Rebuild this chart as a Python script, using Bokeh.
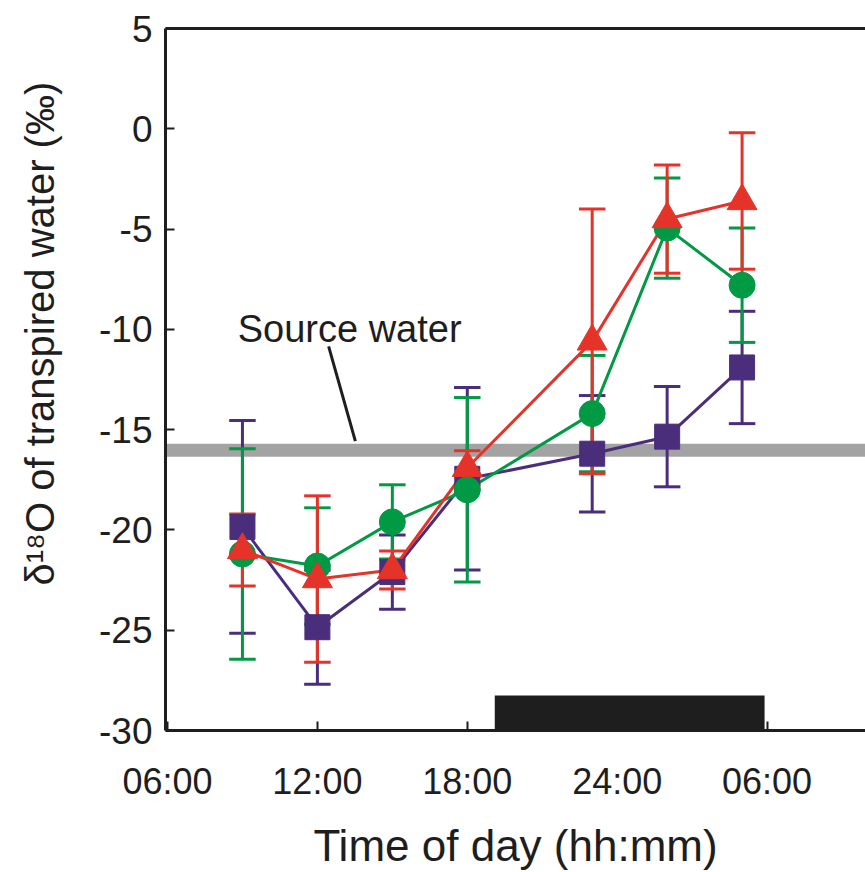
from bokeh.plotting import figure
from bokeh.models import Range1d, FixedTicker, LinearAxis, Title
from bokeh.embed import file_html
from bokeh.resources import INLINE
from bokeh.core.properties import value

# ---------------- data ----------------
hours = [9, 12, 15, 18, 23, 26, 29]

purple_mean = [-19.85, -24.85, -22.1, -17.45, -16.2, -15.35, -11.9]
purple_err = [5.3, 2.85, 1.85, 4.55, 2.9, 2.5, 2.8]

green_mean = [-21.2, -21.8, -19.6, -18.0, -14.2, -4.95, -7.8]
green_err = [5.25, 2.9, 1.85, 4.6, 2.9, 2.5, 2.85]

red_mean = [-21.0, -22.45, -22.0, -16.9, -10.6, -4.5, -3.6]
red_err = [1.8, 4.15, 0.95, 0.85, 6.6, 2.7, 3.4]

source_water_band = [-15.7, -16.35]          # grey band (source water)
night_period = [19.1, 29.9]                  # black bar (dark period), hours
night_bar_height = [-30.0, -28.25]

x_tick_values = [6, 12, 18, 24, 30]
x_tick_labels = ["06:00", "12:00", "18:00", "24:00", "06:00"]
y_tick_values = [5, 0, -5, -10, -15, -20, -25, -30]
y_tick_labels = ["5", "0", "-5", "-10", "-15", "-20", "-25", "-30"]

source_label = ["Source water"]
source_label_pos = [13.29, -10.0]
leader_x = [12.45, 13.52]
leader_y = [-10.85, -15.57]

x_title = "Time of day (hh:mm)"
y_title = "δ¹⁸O of transpired water (‰)"

# ---------------- style ----------------
PURPLE = "#4b2e7b"
GREEN = "#009944"
RED = "#e5332a"
GREY = "#a3a3a3"
BLACK = "#1e1e1e"
FONT = "Liberation Sans"

X0, X1 = 5.92, 33.94
Y0, Y1 = -30.0, 5.0
CAP = 0.53

p = figure(width=865, height=872, x_range=Range1d(X0, X1), y_range=Range1d(Y0, Y1),
           output_backend="svg", toolbar_location=None,
           min_border_left=163, min_border_right=0, min_border_top=28, min_border_bottom=142)
p.outline_line_color = None
p.grid.visible = False
p.background_fill_color = "white"
p.border_fill_color = "white"

# axes
xa = p.xaxis[0]
xa.ticker = FixedTicker(ticks=x_tick_values)
xa.major_label_overrides = {v: l for v, l in zip(x_tick_values, x_tick_labels)}
ya = p.yaxis[0]
ya.ticker = FixedTicker(ticks=y_tick_values)
ya.major_label_overrides = {v: l for v, l in zip(y_tick_values, y_tick_labels)}
for ax in (xa, ya):
    ax.axis_line_width = 3
    ax.axis_line_color = BLACK
    ax.major_tick_in = 9
    ax.major_tick_out = 0
    ax.major_tick_line_width = 2
    ax.major_tick_line_color = BLACK
    ax.minor_tick_line_color = None
    ax.major_label_text_font = FONT
    ax.major_label_text_color = BLACK
xa.major_label_text_font_size = "36px"
ya.major_label_text_font_size = "37px"
xa.major_label_standoff = 30
ya.major_label_standoff = 13
xa.axis_label = x_title
xa.axis_label_text_font = FONT
xa.axis_label_text_font_size = "44px"
xa.axis_label_text_font_style = "normal"
xa.axis_label_text_color = BLACK
xa.axis_label_standoff = 16

# spacer between the y tick labels and the y title
ya.axis_label = " "
ya.axis_label_text_font_size = "1px"
ya.axis_label_standoff = 15

top = LinearAxis(ticker=FixedTicker(ticks=[]), axis_line_width=3, axis_line_color=BLACK,
                 major_tick_in=0, major_tick_out=0, minor_tick_line_color=None,
                 major_label_text_font_size="0px", major_label_standoff=0)
p.add_layout(top, "above")

ytitle = Title(text=y_title, align="left", offset=145, standoff=30,
               text_font=FONT, text_font_size="40px", text_font_style="normal",
               text_color=BLACK)
p.add_layout(ytitle, "left")

# source water band
p.quad(left=[X0], right=[X1], top=[source_water_band[0]], bottom=[source_water_band[1]],
       fill_color=GREY, line_color=None)

# dark period bar
p.quad(left=[night_period[0]], right=[night_period[1]], bottom=[night_bar_height[0]],
       top=[night_bar_height[1]], fill_color=BLACK, line_color=None)

# leader line + label
p.segment(x0=[leader_x[0]], y0=[leader_y[0]], x1=[leader_x[1]], y1=[leader_y[1]],
          line_color=BLACK, line_width=3)
p.text(x=[source_label_pos[0]], y=[source_label_pos[1]], text=source_label,
       text_font=value(FONT), text_font_size="38px", text_align="center",
       text_baseline="alphabetic", text_color=BLACK)

series = [(purple_mean, purple_err, PURPLE, "square"),
          (green_mean, green_err, GREEN, "circle"),
          (red_mean, red_err, RED, "triangle")]

# error bars
for mean, err, col, _ in series:
    up = [m + e for m, e in zip(mean, err)]
    lo = [m - e for m, e in zip(mean, err)]
    p.segment(x0=hours, y0=lo, x1=hours, y1=up, line_color=col, line_width=3)
    p.segment(x0=[h - CAP for h in hours], y0=up, x1=[h + CAP for h in hours], y1=up,
              line_color=col, line_width=3)
    p.segment(x0=[h - CAP for h in hours], y0=lo, x1=[h + CAP for h in hours], y1=lo,
              line_color=col, line_width=3)

# lines
for mean, err, col, _ in series:
    p.line(hours, mean, line_color=col, line_width=3)

# markers
for mean, err, col, mk in series:
    size = {"square": 25, "circle": 26, "triangle": 30}[mk]
    p.scatter(hours, mean, marker=mk, size=size, fill_color=col, line_color=col, line_width=1)

open("out.html", "w").write(file_html(p, INLINE))
